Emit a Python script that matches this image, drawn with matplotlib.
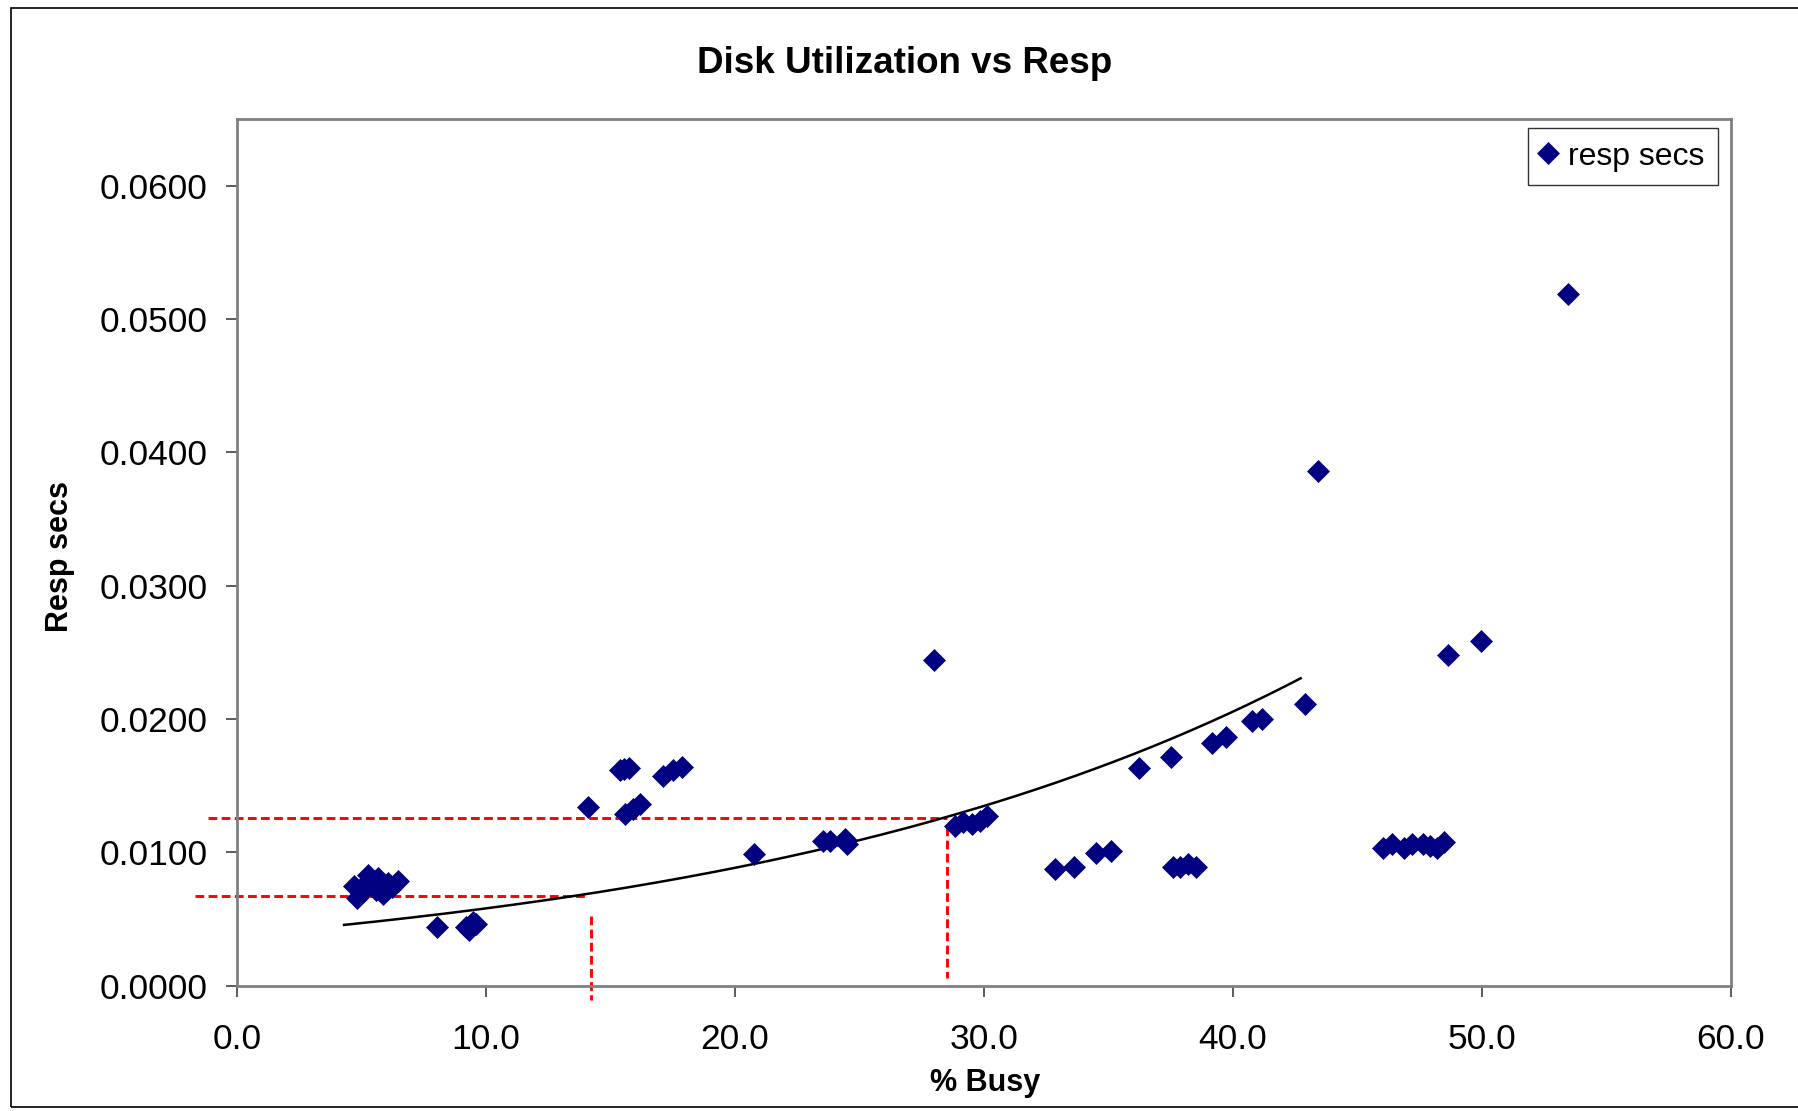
import numpy as np
import matplotlib
matplotlib.use("Agg")
import matplotlib.pyplot as plt
from matplotlib.patches import Rectangle

# % busy vs response time
busy = [4.71, 4.82, 5.05, 5.20, 5.29, 5.49, 5.60, 5.69, 5.80, 5.89, 6.09, 6.25, 6.49,
        8.03, 9.20, 9.33, 9.47, 9.60,
        14.12, 15.39, 15.53, 15.76, 15.59, 15.93, 16.20, 17.13, 17.53, 17.87,
        20.75, 23.56, 23.83, 24.43, 24.50, 27.98,
        28.85, 29.18, 29.52, 29.85, 30.12,
        32.84, 33.63, 34.52, 35.12, 36.22, 37.51,
        37.60, 37.88, 38.20, 38.53, 39.17, 39.72, 40.78, 41.15, 42.90,
        43.41,
        46.04, 46.40, 46.87, 47.19, 47.65, 47.93, 48.20, 48.48,
        48.62, 49.95, 53.46]
resp = [0.00747, 0.00659, 0.00710, 0.00770, 0.00827, 0.00760, 0.00720, 0.00810, 0.00750, 0.00684, 0.00772, 0.00740, 0.00784,
        0.00437, 0.00440, 0.00420, 0.00480, 0.00460,
        0.01338, 0.01614, 0.01627, 0.01630, 0.01287, 0.01325, 0.01362, 0.01576, 0.01614, 0.01640,
        0.00986, 0.01086, 0.01086, 0.01099, 0.01061, 0.02443,
        0.01199, 0.01225, 0.01212, 0.01237, 0.01275,
        0.00873, 0.00890, 0.00993, 0.01010, 0.01632, 0.01718,
        0.00890, 0.00890, 0.00915, 0.00890, 0.01822, 0.01865, 0.01986, 0.02003, 0.02116,
        0.03860,
        0.01036, 0.01062, 0.01036, 0.01062, 0.01062, 0.01045, 0.01036, 0.01080,
        0.02478, 0.02582, 0.05190]

# exponential trend line as drawn on the chart (y = a * e^(b x)), and its x span
trend_a = 0.003800
trend_b = 0.04220
trend_span = (4.31, 42.72)

# red dashed read-off guides: (x0, x1, y) and (x, y0, y1)
guide_h = [(-1.15, 28.5, 0.01257), (-1.67, 14.12, 0.00676)]
guide_v = [(28.51, 0.0119, 0.00058), (14.22, 0.0052, -0.00108)]

x_ticks = [0, 10, 20, 30, 40, 50, 60]
y_ticks = [0.0, 0.01, 0.02, 0.03, 0.04, 0.05, 0.06]

plt.rcParams['font.family'] = ['Liberation Sans', 'DejaVu Sans']

fig = plt.figure(figsize=(17.99, 11.11), dpi=100)
fig.patches.append(Rectangle((0.0061, 0.0036), 1.2, 0.9892, transform=fig.transFigure,
                             fill=False, edgecolor='black', linewidth=1.2))

ax = fig.add_axes([0.1316, 0.1128, 0.8306, 0.7801])

tx = np.linspace(trend_span[0], trend_span[1], 200)
ax.plot(tx, trend_a * np.exp(trend_b * tx), color='black', linewidth=1.8, zorder=3)

for x0, x1, y in guide_h:
    ax.plot([x0, x1], [y, y], color='#ff0000', linewidth=2.1, dashes=(3.0, 1.5),
            clip_on=False, zorder=2)
for x, y0, y1 in guide_v:
    ax.plot([x, x], [y0, y1], color='#ff0000', linewidth=2.1, dashes=(3.0, 1.5),
            clip_on=False, zorder=2)

ax.plot(busy, resp, linestyle='none', marker='D', markersize=10.8,
        color='#000080', markeredgecolor='#000080', markeredgewidth=0.5,
        label='resp secs', zorder=4)

ax.set_xlim(0, 60)
ax.set_ylim(0, 0.065)
ax.set_xticks(x_ticks)
ax.set_xticklabels([f"{v:.1f}" for v in x_ticks])
ax.set_yticks(y_ticks)
ax.set_yticklabels([f"{v:.4f}" for v in y_ticks])
ax.tick_params(axis='both', direction='out', length=8, width=1.2, color='#404040',
               labelsize=25.5)
ax.tick_params(axis='x', pad=19)
ax.tick_params(axis='y', pad=13)
for sp in ax.spines.values():
    sp.set_color('#808080')
    sp.set_linewidth(2)

leg = ax.legend(loc='upper right', bbox_to_anchor=(0.991, 0.9895), fontsize=23,
                frameon=True, fancybox=False, borderpad=0.42, handletextpad=0.39,
                handlelength=0.45, borderaxespad=0)
leg.get_frame().set_edgecolor('black')
leg.get_frame().set_linewidth(1.0)

fig.text(0.503, 0.9343, "Disk Utilization vs Resp", ha='center', va='baseline',
         fontsize=26.5, fontweight='bold')
fig.text(0.5475, 0.018, "% Busy", ha='center', va='baseline',
         fontsize=22, fontweight='bold')
fig.text(0.0334, 0.4995, "Resp secs", ha='center', va='center', rotation=90,
         fontsize=22, fontweight='bold')

fig.savefig("out.png", dpi=100)
